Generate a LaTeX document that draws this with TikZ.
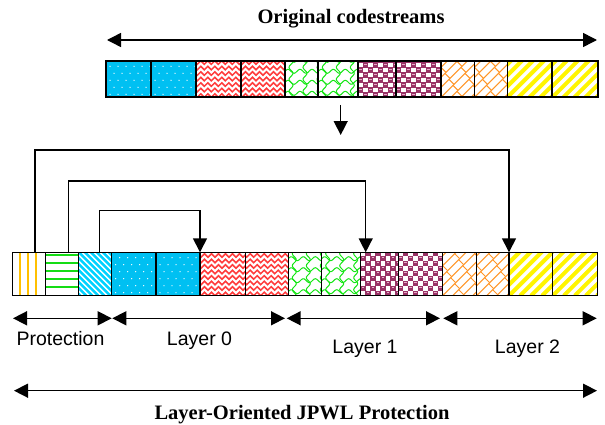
\documentclass[tikz,border=0pt]{standalone}
\usepackage{fontspec}
\setmainfont{Liberation Serif}
\setsansfont{Liberation Sans}
\usetikzlibrary{arrows.meta}
\definecolor{goldP}{RGB}{255,192,0}
\definecolor{hgreenP}{RGB}{20,220,20}
\definecolor{cyanP}{RGB}{0,210,255}
\definecolor{blueP}{RGB}{0,192,242}
\definecolor{redP}{RGB}{255,60,60}
\definecolor{greenP}{RGB}{20,230,20}
\definecolor{maroonP}{RGB}{153,51,102}
\definecolor{pinkP}{RGB}{230,170,200}
\definecolor{orangeP}{RGB}{255,150,40}
\definecolor{yellowP}{RGB}{255,245,0}
\newcommand\patVl{\foreach \i in {7.7,16,23.7}{\draw[goldP,line width=2] (\i,-2)--(\i,60);}}
\newcommand\patHl{\foreach \i in {1,...,5}{\draw[hgreenP,line width=1.8] (-2,{0.4+8*\i})--(60,{0.4+8*\i});}}
\newcommand\patDiag{\foreach \i in {-60,-54,...,60}{\draw[cyanP,line width=2.4] (\i,50)--(\i+50,0);}}
\newcommand\patDots{\fill[blueP] (-2,-2) rectangle (60,60);
  \foreach \j in {0,...,6}{\foreach \i in {0,...,5}{\fill[white] ({4+8*\i+4*mod(\j,2)},{3+7*\j}) circle (0.7);}}}
\newcommand\patHerr{\foreach \j in {-2,...,9}{\draw[redP,line width=1.5] (-6,{5.5*\j}) \foreach \k in {0,...,7}{ -- ++(3.5,3.5) -- ++(3.5,-3.5)};}}
\newcommand\patWave{\foreach \j in {0,...,4}{\draw[greenP,line width=1] plot[domain=-2:52,samples=40,smooth] (\x,{4+11*\j+2*sin(\x*30)});}
  \foreach \i in {0,...,3}{\draw[greenP,line width=1] plot[domain=-2:52,samples=40,smooth] ({6+14*\i+2*sin(\x*30+90)},\x);}}
\newcommand\patSph{\fill[maroonP] (-2,-2) rectangle (60,60);
  \foreach \i in {0,...,5}{\foreach \j in {0,...,5}{
    \fill[white] ({10*\i},{10*\j}) rectangle ++(4.6,4.6);
    \fill[white] ({10*\i+5},{10*\j+5}) rectangle ++(4.6,4.6);
    \fill[pinkP] ({10*\i+1},{10*\j+7.6}) rectangle ++(2.6,1.1);
    \fill[pinkP] ({10*\i+6},{10*\j+2.6}) rectangle ++(2.6,1.1);}}}
\newcommand\patBrick{\foreach \i in {-6,...,6}{\draw[orangeP,line width=1] ({10*\i},0)--({10*\i+60},60);
   \foreach \k in {-1,...,5}{\draw[orangeP,line width=1] ({10*\i+12*\k+6*mod(\i+6,2)},{12*\k+6*mod(\i+6,2)}) -- ++(5,-5);}}}
\newcommand\patYel{\foreach \i in {-6,...,6}{\draw[yellowP,line width=4] ({11*\i},0)--({11*\i+60},60);}}
% fill a named cell with a pattern and draw its border
\newcommand\pcell[3]{\begin{scope}\clip (#1.south west) rectangle (#1.north east);
  \begin{scope}[shift={(#1.south west)}]#2\end{scope}\end{scope}
  \draw[line width=#3] (#1.south west) rectangle (#1.north east);}
\tikzset{
  cell/.style={inner sep=0pt, outer sep=0pt, anchor=south west},
  topc/.style={cell, minimum height=36.6},
  botc/.style={cell, minimum height=43.4},
  dbl/.style={line width=1.5, {Triangle[length=14pt,width=14pt]}-{Triangle[length=14pt,width=14pt]}},
  conn/.style={line width=1.4, -{Triangle[length=14pt,width=14pt]}},
  ttl/.style={font=\fontsize{20.5}{24}\selectfont\bfseries, anchor=base, inner sep=0pt},
  lbl/.style={font=\sffamily\fontsize{19.5}{23}\selectfont, anchor=base, inner sep=0pt},
}
\begin{document}
\begin{tikzpicture}[x=1pt,y=1pt]
\useasboundingbox (0,0) rectangle (605,424);
\fill[white] (0,0) rectangle (605,424);
% title and top arrow
\node[ttl] (title) at (351,400) {Original codestreams};
\coordinate (ta1) at (107,384);
\coordinate (ta2) at (597,384);
\draw[dbl] (ta1) -- (ta2);
% top row
\node[topc,minimum width=45] (t1) at (106,326.7) {};
\node[topc,minimum width=45.3] (t2) at (151,326.7) {};
\node[topc,minimum width=44.7] (t3) at (196.3,326.7) {};
\node[topc,minimum width=44] (t4) at (241,326.7) {};
\node[topc,minimum width=33.3] (t5) at (285,326.7) {};
\node[topc,minimum width=39.7] (t6) at (318.3,326.7) {};
\node[topc,minimum width=38] (t7) at (358,326.7) {};
\node[topc,minimum width=45] (t8) at (396,326.7) {};
\node[topc,minimum width=33.5] (t9) at (441,326.7) {};
\node[topc,minimum width=33] (t10) at (474.5,326.7) {};
\node[topc,minimum width=44.8] (t11) at (507.5,326.7) {};
\node[topc,minimum width=45.5] (t12) at (552.3,326.7) {};
\pcell{t1}{\patDots}{1.9}\pcell{t2}{\patDots}{1.9}
\pcell{t3}{\patHerr}{1.9}\pcell{t4}{\patHerr}{1.9}
\pcell{t5}{\patWave}{1.9}\pcell{t6}{\patWave}{1.9}
\pcell{t7}{\patSph}{1.9}\pcell{t8}{\patSph}{1.9}
\pcell{t9}{\patBrick}{1.9}\pcell{t10}{\patBrick}{1.9}
\pcell{t11}{\patYel}{1.9}\pcell{t12}{\patYel}{1.9}
% down arrow
\coordinate (dn1) at (340.7,319);
\coordinate (dn2) at (340.7,289);
\draw[line width=1.4, -{Triangle[length=14pt,width=14pt]}] (dn1) -- (dn2);
% bottom row
\node[botc,minimum width=33.4] (q1) at (12.3,128.3) {};
\node[botc,minimum width=32.6] (q2) at (45.7,128.3) {};
\node[botc,minimum width=33.4] (q3) at (78.3,128.3) {};
\node[botc,minimum width=44.3] (c1) at (111.7,128.3) {};
\node[botc,minimum width=44] (c2) at (156,128.3) {};
\node[botc,minimum width=45.7] (c3) at (200,128.3) {};
\node[botc,minimum width=42.6] (c4) at (245.7,128.3) {};
\node[botc,minimum width=33.4] (c5) at (288.3,128.3) {};
\node[botc,minimum width=39] (c6) at (321.7,128.3) {};
\node[botc,minimum width=37.6] (c7) at (360.7,128.3) {};
\node[botc,minimum width=44.4] (c8) at (398.3,128.3) {};
\node[botc,minimum width=34] (c9) at (442.7,128.3) {};
\node[botc,minimum width=32.3] (c10) at (476.7,128.3) {};
\node[botc,minimum width=43.7] (c11) at (509,128.3) {};
\node[botc,minimum width=44.6] (c12) at (552.7,128.3) {};
\pcell{q1}{\patVl}{1.5}\pcell{q2}{\patHl}{1.5}\pcell{q3}{\patDiag}{1.5}
\pcell{c1}{\patDots}{1.5}\pcell{c2}{\patDots}{1.5}
\pcell{c3}{\patHerr}{1.5}\pcell{c4}{\patHerr}{1.5}
\pcell{c5}{\patWave}{1.5}\pcell{c6}{\patWave}{1.5}
\pcell{c7}{\patSph}{1.5}\pcell{c8}{\patSph}{1.5}
\pcell{c9}{\patBrick}{1.5}\pcell{c10}{\patBrick}{1.5}
\pcell{c11}{\patYel}{1.5}\pcell{c12}{\patYel}{1.5}
% connectors
\draw[conn] ([xshift=6pt]q1.north) -- ++(0,102.3) -| (c11.north west);
\draw[conn] ([xshift=6.3pt]q2.north) -- ++(0,71.3) -| ([xshift=5pt]c7.north west);
\draw[conn] ([xshift=4.3pt]q3.north) -- ++(0,41.6) -| (c3.north west);
% sub arrows
\coordinate (pa1) at (13,105.7); \coordinate (pa2) at (111.7,105.7);
\coordinate (la1) at (112.3,105.7); \coordinate (la2) at (285,105.7);
\coordinate (lb1) at (286.7,105.7); \coordinate (lb2) at (440,105.7);
\coordinate (lc1) at (443.3,105.7); \coordinate (lc2) at (596.7,105.7);
\draw[dbl] (pa1) -- (pa2);
\draw[dbl] (la1) -- (la2);
\draw[dbl] (lb1) -- (lb2);
\draw[dbl] (lc1) -- (lc2);
\node[lbl] (lp) at (60.5,78.3) {Protection};
\node[lbl] (l0) at (199.5,78.3) {Layer 0};
\node[lbl] (l1) at (365,70.7) {Layer 1};
\node[lbl] (l2) at (527.5,70.7) {Layer 2};
% bottom arrow and title
\coordinate (ba1) at (14,33.3);
\coordinate (ba2) at (597,33.3);
\draw[dbl] (ba1) -- (ba2);
\node[ttl] (btitle) at (302,4.7) {Layer-Oriented JPWL Protection};
\end{tikzpicture}
\end{document}
